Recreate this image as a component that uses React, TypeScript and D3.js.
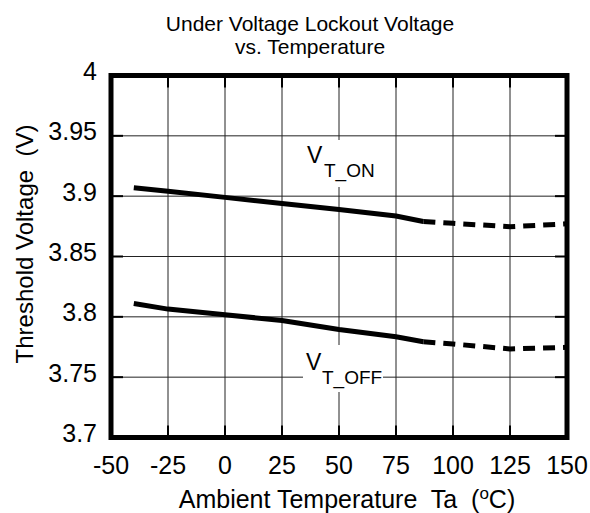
import React from "react";
import * as d3 from "d3";

const xTicks = [-50, -25, 0, 25, 50, 75, 100, 125, 150];
const yTicks = [3.7, 3.75, 3.8, 3.85, 3.9, 3.95, 4];
const yTickLabels = ["3.7", "3.75", "3.8", "3.85", "3.9", "3.95", "4"];

const onSolidT = [-40, -25, 0, 25, 50, 75, 87];
const onSolidV = [3.907, 3.904, 3.899, 3.894, 3.889, 3.8835, 3.879];
const onDashT = [87, 100, 125, 150];
const onDashV = [3.879, 3.8775, 3.8747, 3.8771];

const offSolidT = [-40, -25, 0, 25, 50, 75, 87];
const offSolidV = [3.811, 3.8064, 3.8017, 3.797, 3.7895, 3.7835, 3.7793];
const offDashT = [87, 100, 125, 150];
const offDashV = [3.7793, 3.7775, 3.7734, 3.7747];

const W = 590;
const H = 513;
const L = 111, R = 567, T = 75.5, B = 437.5;
const FONT = "'Liberation Sans', Arial, Helvetica, sans-serif";

export default function App() {
  const x = d3.scaleLinear().domain([-50, 150]).range([L, R]);
  const y = d3.scaleLinear().domain([3.7, 4]).range([B, T]);
  const line = d3.line<[number, number]>().x((d) => x(d[0])).y((d) => y(d[1]));
  const zip = (a: number[], b: number[]) => a.map((v, i) => [v, b[i]] as [number, number]);

  return (
    <svg width={W} height={H} style={{ position: "fixed", left: 0, top: 0, background: "#fff" }} fontFamily={FONT}>
      <rect x={0} y={0} width={W} height={H} fill="#fff" />
      {/* grid */}
      {xTicks.slice(1, -1).map((t) => (
        <line key={"gx" + t} x1={x(t)} x2={x(t)} y1={T} y2={B} stroke="#222" strokeWidth={1} />
      ))}
      {yTicks.slice(1, -1).map((t) => (
        <line key={"gy" + t} x1={L} x2={R} y1={y(t)} y2={y(t)} stroke="#222" strokeWidth={1} />
      ))}
      {/* inner ticks */}
      {xTicks.slice(1, -1).map((t) => (
        <g key={"tx" + t}>
          <line x1={x(t)} x2={x(t)} y1={T} y2={T + 12} stroke="#000" strokeWidth={2} />
          <line x1={x(t)} x2={x(t)} y1={B} y2={B - 12} stroke="#000" strokeWidth={2} />
        </g>
      ))}
      {yTicks.slice(1, -1).map((t) => (
        <g key={"ty" + t}>
          <line x1={L} x2={L + 12} y1={y(t)} y2={y(t)} stroke="#000" strokeWidth={2} />
          <line x1={R} x2={R - 12} y1={y(t)} y2={y(t)} stroke="#000" strokeWidth={2} />
        </g>
      ))}
      {/* label boxes */}
      <rect x={304} y={140} width={78} height={47} fill="#fff" />
      <rect x={303} y={345} width={80} height={47} fill="#fff" />
      {/* data */}
      <path d={line(zip(onSolidT, onSolidV)) || ""} fill="none" stroke="#000" strokeWidth={5} />
      <path d={line(zip(onDashT, onDashV)) || ""} fill="none" stroke="#000" strokeWidth={5} strokeDasharray="12 8" />
      <path d={line(zip(offSolidT, offSolidV)) || ""} fill="none" stroke="#000" strokeWidth={5} />
      <path d={line(zip(offDashT, offDashV)) || ""} fill="none" stroke="#000" strokeWidth={5} strokeDasharray="12 8" />
      {/* frame */}
      <rect x={L} y={T} width={R - L} height={B - T} fill="none" stroke="#000" strokeWidth={5} />
      {/* labels */}
      <text x={307} y={163} fontSize={23}>V</text>
      <text x={324} y={177} fontSize={19}>T_ON</text>
      <text x={306} y={370} fontSize={23}>V</text>
      <text x={322} y={384} fontSize={19}>T_OFF</text>
      {/* y tick labels */}
      {yTicks.map((t, i) => (
        <text key={"yl" + t} x={97} y={y(t) + 4.5} fontSize={25} textAnchor="end">{yTickLabels[i]}</text>
      ))}
      {xTicks.map((t) => (
        <text key={"xl" + t} x={x(t)} y={474} fontSize={25} textAnchor="middle">{t}</text>
      ))}
      {/* titles */}
      <text x={310} y={31} fontSize={21} textAnchor="middle">Under Voltage Lockout Voltage</text>
      <text x={310} y={54} fontSize={21} textAnchor="middle">vs. Temperature</text>
      <text x={347} y={508} fontSize={25} textAnchor="middle" style={{ whiteSpace: "pre" }}>
        {"Ambient Temperature  Ta  ("}
        <tspan fontSize={17} dy={-9}>o</tspan>
        <tspan dy={9}>C)</tspan>
      </text>
      <text transform="translate(33,244) rotate(-90)" fontSize={24} textAnchor="middle" style={{ whiteSpace: "pre" }}>
        {"Threshold Voltage  (V)"}
      </text>
    </svg>
  );
}
